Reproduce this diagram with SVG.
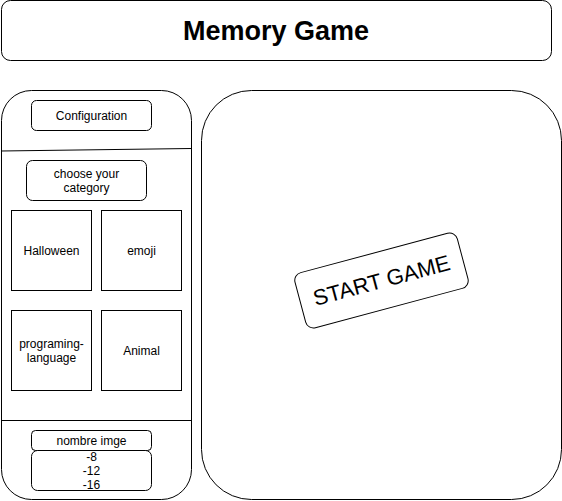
<svg xmlns="http://www.w3.org/2000/svg" width="562" height="501" viewBox="0 0 562 501">
<style>
.s{fill:#fff;stroke:#000;stroke-width:1}
.t{font-family:"Liberation Sans",Arial,sans-serif;font-size:12px;fill:#000;text-anchor:middle;dominant-baseline:central}
</style>
<rect width="562" height="501" fill="#fff"/>
<g id="title"><rect class="s" x="1.5" y="0.5" width="550" height="60" rx="9"/><text class="t" x="276" y="30.5" style="font-size:27px;font-weight:bold">Memory Game</text></g>
<g id="left-panel"><rect class="s" x="1.5" y="90.5" width="190" height="409" rx="30"/></g>
<g id="connectors">
<line x1="1" y1="151" x2="191" y2="148.5" stroke="#000"/>
<line x1="1" y1="420.5" x2="191" y2="420.5" stroke="#000"/>
</g>
<g id="configuration"><rect class="s" x="31.5" y="100.5" width="120" height="30" rx="5"/><text class="t" x="91.5" y="115.5">Configuration</text></g>
<g id="category"><rect class="s" x="26.5" y="160.5" width="120" height="40" rx="6"/><text class="t" x="86.5" y="173.5">choose your</text><text class="t" x="86.5" y="187.5">category</text></g>
<g id="halloween"><rect class="s" x="11.5" y="210.5" width="80" height="80"/><text class="t" x="51.5" y="250.5">Halloween</text></g>
<g id="emoji"><rect class="s" x="101.5" y="210.5" width="80" height="80"/><text class="t" x="141.5" y="250.5">emoji</text></g>
<g id="programming"><rect class="s" x="11.5" y="310.5" width="80" height="80"/><text class="t" x="51.5" y="343.5">programing-</text><text class="t" x="51.5" y="357.5">language</text></g>
<g id="animal"><rect class="s" x="101.5" y="310.5" width="80" height="80"/><text class="t" x="141.5" y="350.5">Animal</text></g>
<g id="nombre"><rect class="s" x="31.5" y="430.5" width="120" height="20" rx="4"/><text class="t" x="91.5" y="440.5">nombre imge</text></g>
<g id="values"><rect class="s" x="31.5" y="450.5" width="120" height="40" rx="6"/><text class="t" x="91.5" y="456.5">-8</text><text class="t" x="91.5" y="470.5">-12</text><text class="t" x="91.5" y="484.5">-16</text></g>
<g id="right-panel"><rect class="s" x="201.5" y="90.5" width="360" height="409" rx="50"/></g>
<g id="start" transform="rotate(-15 381.5 280.5)"><rect class="s" x="297.5" y="252" width="168" height="57" rx="8"/><text class="t" x="381.5" y="280.5" style="font-size:22px">START GAME</text></g>
</svg>
